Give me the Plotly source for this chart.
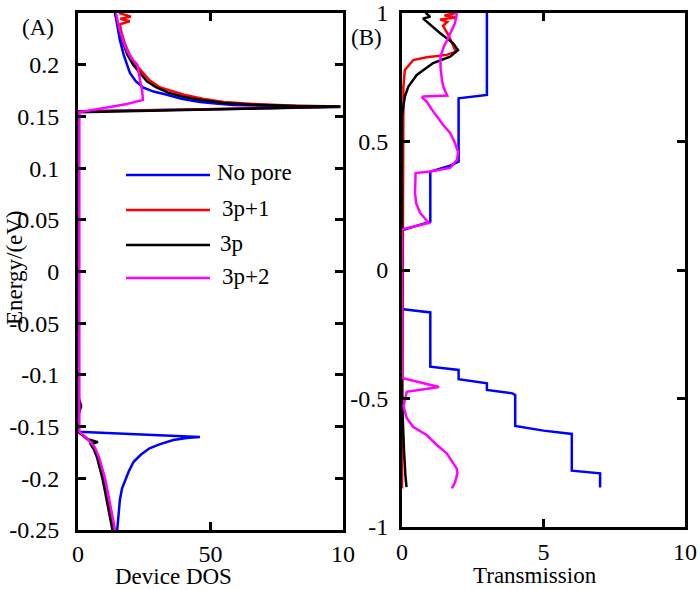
import plotly.graph_objects as go

W, H = 700, 590
FONT = "Liberation Serif, Times New Roman, DejaVu Serif, serif"

# ---------------- Panel A : Device DOS ----------------
dosA_nopore_E = [-0.25, -0.24, -0.23, -0.221, -0.21, -0.202, -0.193, -0.184, -0.177, -0.171, -0.167, -0.163,
                 -0.161, -0.160, -0.155, 0.155, 0.159, 0.1595, 0.160, 0.161, 0.1625, 0.164, 0.167, 0.171,
                 0.174, 0.178, 0.184, 0.192, 0.2, 0.21, 0.224, 0.237, 0.25]
dosA_nopore = [14.8, 15.1, 15.4, 15.8, 16.6, 17.7, 19.2, 21, 23.8, 27, 31, 36,
               41, 46, 0, 0, 99, 85, 71, 58.5, 52, 46, 39, 33.6,
               28.5, 24.5, 21.8, 19.6, 18.5, 17.2, 15.8, 14.8, 14]

dosA_3p1_E = [-0.25, -0.23, -0.21, -0.2, -0.19, -0.18, -0.17, -0.165, -0.16, -0.155, 0.1545, 0.1595, 0.1605,
              0.162, 0.164, 0.167, 0.171, 0.178, 0.185, 0.192, 0.2, 0.21, 0.221, 0.232, 0.239, 0.242,
              0.2445, 0.2465, 0.25]
dosA_3p1 = [13.6, 12.2, 10.7, 9.8, 8.8, 7.7, 6.1, 4.7, 2.7, 0, 0, 99, 80,
            66, 55, 47, 40, 31, 27, 24.5, 21.8, 19.4, 17.6, 16.3, 15.8, 19.5,
            16, 20, 15.5]

dosA_3p_E = [-0.25, -0.24, -0.23, -0.22, -0.21, -0.2, -0.19, -0.18, -0.172, -0.167, -0.165, -0.162, -0.158,
             -0.155, -0.14, -0.13, -0.12, 0.154, 0.1595, 0.160, 0.1615, 0.163, 0.166, 0.169, 0.173,
             0.178, 0.184, 0.192, 0.2, 0.21, 0.221, 0.235, 0.25]
dosA_3p = [13, 12.3, 11.5, 10.8, 10, 9.2, 8.3, 7.2, 6, 4.8, 7.5, 3.5, 1.5,
           0, 0, 1.2, 0, 0, 99, 82, 65, 55, 46, 39.6, 34,
           29.6, 26, 23.4, 20.8, 18.6, 17, 15.5, 14]

dosA_3p2_E = [-0.25, -0.24, -0.23, -0.22, -0.21, -0.2, -0.19, -0.18, -0.17, -0.165, -0.16, -0.156, -0.155,
              0.154, 0.162, 0.166, 0.175, 0.185, 0.195, 0.2, 0.203, 0.206, 0.212, 0.221, 0.235, 0.25]
dosA_3p2 = [14, 13.3, 12.5, 11.8, 11, 10.2, 9.2, 8, 6.3, 4.8, 2.8, 0.8, 0.5,
            0.5, 18.5, 24.5, 24.2, 23.4, 22.6, 22.4, 21.3, 20.2, 18.8, 17.3, 15.6, 14.3]

# ---------------- Panel B : Transmission ----------------
trB_nopore_E = [-0.846, -0.791, -0.781, -0.772, -0.638, -0.625, -0.607, -0.486, -0.48, -0.467, -0.441,
                -0.425, -0.389, -0.376, -0.165, -0.153, -0.15, 0.15, 0.156, 0.188, 0.383, 0.406, 0.421,
                0.668, 0.681, 1.0]
trB_nopore = [7.0, 7.0, 6.0, 6.0, 6.0, 5.0, 4.0, 4.0, 3.9, 3.0, 3.0,
              2.0, 2.0, 1.0, 1.0, 0.05, 0, 0, 0.05, 1.0, 1.0, 1.7, 2.0,
              2.0, 3.0, 3.0]

trB_3p1_E = [-0.85, 0.713, 0.778, 0.817, 0.828, 0.837, 0.85, 0.875, 0.914, 0.95, 0.965, 0.975, 0.983,
             0.99, 1.0]
trB_3p1 = [0, 0.05, 0.1, 0.4, 0.87, 1.58, 1.9, 1.8, 1.64, 1.45, 1.6, 1.35, 1.95,
           1.5, 1.9]

trB_3p_E = [-0.845, -0.8, -0.7, -0.6, -0.5, 0.6, 0.675, 0.713, 0.759, 0.805, 0.83, 0.856, 0.883,
            0.922, 0.966, 0.979, 0.985, 0.997, 1.0]
trB_3p = [0.16, 0.12, 0.07, 0.03, 0, 0, 0.1, 0.22, 0.52, 1.1, 1.7, 1.98, 1.8,
          1.34, 0.87, 0.74, 1.0, 0.87, 0.9]

trB_3p2_E = [-0.85, -0.825, -0.79, -0.772, -0.713, -0.68, -0.642, -0.61, -0.577, -0.53, -0.474, -0.455,
             -0.42, 0.155, 0.159, 0.183, 0.222, 0.26, 0.30, 0.377, 0.383, 0.397, 0.43, 0.46, 0.5,
             0.533, 0.565, 0.596, 0.625, 0.654, 0.67, 0.675, 0.679, 0.71, 0.74, 0.79, 0.83, 0.87,
             0.9, 0.96, 1.0]
trB_3p2 = [1.76, 1.88, 1.96, 1.93, 1.58, 1.22, 0.87, 0.39, 0.17, 0.05, 0.17, 1.31,
           0, 0, 0.04, 0.95, 0.64, 0.5, 0.46, 0.48, 1.0, 1.7, 1.95, 1.98, 1.85,
           1.7, 1.45, 1.23, 1.05, 0.88, 0.72, 0.75, 1.6, 1.47, 1.41, 1.36, 1.36, 1.48,
           1.62, 1.87, 1.94]

series_names = ["No pore", "3p+1", "3p", "3p+2"]
series_colors = ["#0000FF", "#FF0000", "#000000", "#FF00FF"]

panelA = [(dosA_nopore, dosA_nopore_E), (dosA_3p1, dosA_3p1_E), (dosA_3p, dosA_3p_E), (dosA_3p2, dosA_3p2_E)]
panelB = [(trB_nopore, trB_nopore_E), (trB_3p1, trB_3p1_E), (trB_3p, trB_3p_E), (trB_3p2, trB_3p2_E)]

A_yticks = [-0.25, -0.2, -0.15, -0.1, -0.05, 0, 0.05, 0.1, 0.15, 0.2]
A_yticktext = ["-0.25", "-0.2", "-0.15", "-0.1", "-0.05", "0", "0.05", "0.1", "0.15", "0.2"]
A_xticks = [0, 50, 100]
A_xticktext = ["0", "50", "10"]
B_yticks = [-1, -0.5, 0, 0.5, 1]
B_yticktext = ["-1", "-0.5", "0", "0.5", "1"]
B_xticks = [0, 5, 10]
B_xticktext = ["0", "5", "10"]

fig = go.Figure()
for (x, y), name, col in zip(panelA, series_names, series_colors):
    fig.add_trace(go.Scatter(x=x, y=y, mode="lines", name=name, showlegend=False,
                             line=dict(color=col, width=2.5), xaxis="x", yaxis="y"))
for (x, y), name, col in zip(panelB, series_names, series_colors):
    fig.add_trace(go.Scatter(x=x, y=y, mode="lines", name=name, showlegend=False,
                             line=dict(color=col, width=2.5), xaxis="x2", yaxis="y2"))

tickfont = dict(family=FONT, size=24, color="black")
axis_common = dict(showline=True, linecolor="black", linewidth=3, mirror="ticks", ticks="inside",
                   ticklen=8, tickwidth=2.5, tickcolor="black", showgrid=False, zeroline=False,
                   tickfont=tickfont, automargin=False, tickmode="array")

fig.update_layout(
    width=W, height=H, margin=dict(l=0, r=0, t=0, b=0),
    paper_bgcolor="white", plot_bgcolor="white",
    xaxis=dict(domain=[78 / W, 343 / W], range=[0, 100], tickvals=A_xticks, ticktext=A_xticktext,
               anchor="y", ticklabelstandoff=0, **axis_common),
    yaxis=dict(domain=[1 - 530 / H, 1 - 13 / H], range=[-0.25, 0.25], tickvals=A_yticks,
               ticktext=A_yticktext, anchor="x", ticklabelstandoff=11, **axis_common),
    xaxis2=dict(domain=[402 / W, 685 / W], range=[0, 10], tickvals=B_xticks, ticktext=B_xticktext,
                anchor="y2", ticklabelstandoff=1, **axis_common),
    yaxis2=dict(domain=[1 - 527 / H, 1 - 13 / H], range=[-1, 1], tickvals=B_yticks,
                ticktext=B_yticktext, anchor="x2", ticklabelstandoff=6, **axis_common),
)

anns = [
    dict(text="Device DOS", x=173 / W, y=1 - 576 / H),
    dict(text="Transmission", x=535 / W, y=1 - 575 / H),
    dict(text="(A)", x=38 / W, y=1 - 27 / H),
    dict(text="(B)", x=367 / W, y=1 - 37 / H),
    dict(text="Energy/(eV)", x=15 / W, y=1 - 268 / H, textangle=-90),
]
for a in anns:
    fig.add_annotation(xref="paper", yref="paper", showarrow=False, xanchor="center", yanchor="middle",
                       font=dict(family=FONT, size=23, color="black"), **a)

# manual legend
leg_rows = [175, 210, 245, 278]
leg_text_x = [215, 220, 218, 220]
for name, col, ry, tx in zip(series_names, series_colors, leg_rows, leg_text_x):
    fig.add_shape(type="line", xref="paper", yref="paper", x0=126 / W, x1=210 / W,
                  y0=1 - ry / H, y1=1 - ry / H, line=dict(color=col, width=2.5))
    fig.add_annotation(xref="paper", yref="paper", x=tx / W, y=1 - (ry - 2) / H, text=name,
                       showarrow=False, xanchor="left", yanchor="middle",
                       font=dict(family=FONT, size=23, color="black"))

fig.write_html("out.html", config={"displayModeBar": False},
               post_script="document.body.style.margin='0';document.body.style.padding='0';")
